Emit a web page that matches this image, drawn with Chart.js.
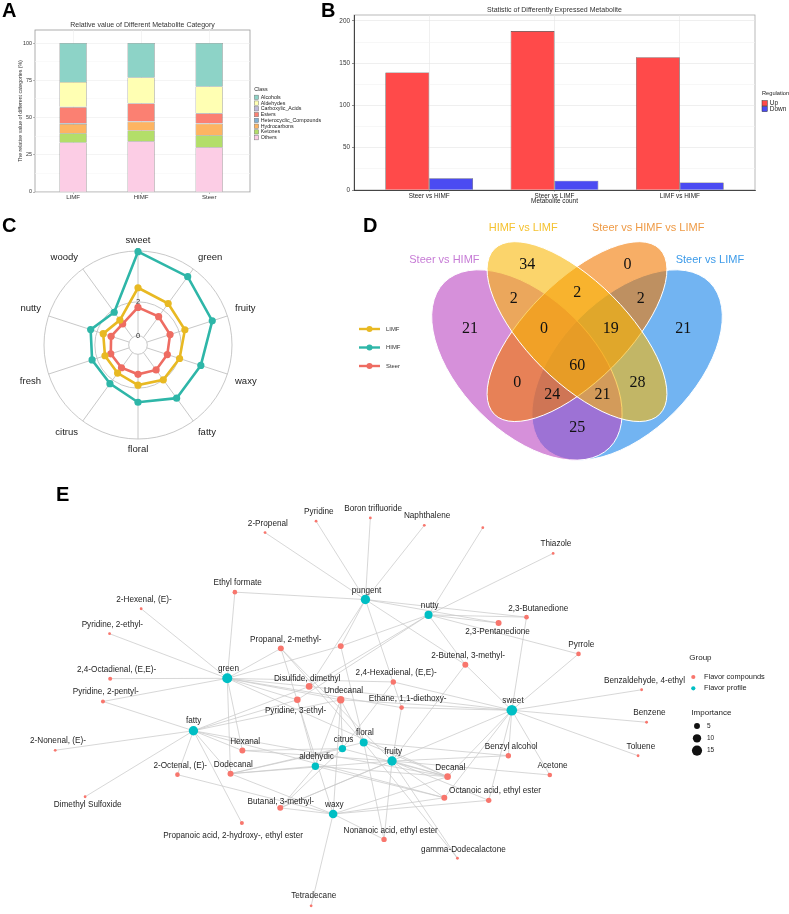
<!DOCTYPE html>
<html>
<head>
<meta charset="utf-8">
<title>Metabolite figure</title>
<script src="https://cdn.jsdelivr.net/npm/chart.js@4.4.1/dist/chart.umd.min.js"></script>
<style>
  html, body { margin: 0; padding: 0; background: #fff; }
  body { position: relative; width: 789px; height: 914px; overflow: hidden; font-family: "Liberation Sans", Arial, sans-serif; }
  canvas { position: absolute; }
  .tag { position: absolute; font: bold 20px/20px "Liberation Sans", Arial, sans-serif; color: #000; }
</style>
</head>
<body>
<canvas id="chartA" width="330" height="205" style="left:0;top:0"></canvas>
<canvas id="chartB" width="464" height="210" style="left:325px;top:0"></canvas>
<canvas id="chartC" width="405" height="255" style="left:0;top:215px"></canvas>
<canvas id="chartD" width="394" height="257" style="left:395px;top:205px"></canvas>
<canvas id="chartE" width="789" height="444" style="left:0;top:470px"></canvas>
<div class="tag" style="left:2px;top:0px">A</div>
<div class="tag" style="left:321px;top:0px">B</div>
<div class="tag" style="left:2px;top:215px">C</div>
<div class="tag" style="left:363px;top:215px">D</div>
<div class="tag" style="left:56px;top:484px">E</div>

<script>
// ============================================================
//  Figure: metabolite categories, DEMs, flavor radar, venn, flavor network
// ============================================================

// ---------- A: relative value by class (%) ----------
const samplesA = ['LIMF', 'HIMF', 'Steer'];
const classes = ['Alcohols', 'Aldehydes', 'Carboxylic_Acids', 'Esters', 'Heterocyclic_Compounds', 'Hydrocarbons', 'Ketones', 'Others'];
const alcohols        = [26.2, 23.1, 29.2];
const aldehydes       = [16.5, 17.3, 17.8];
const carboxylicAcids = [0.3, 0.2, 0.2];
const esters          = [10.8, 11.9, 6.6];
const heterocyclic    = [0.5, 0.4, 0.4];
const hydrocarbons    = [6.2, 5.8, 7.7];
const ketones         = [6.3, 7.2, 8.1];
const others          = [33.2, 34.1, 30.0];

// ---------- B: differently expressed metabolites ----------
const comparisons = ['Steer vs HIMF', 'Steer vs LIMF', 'LIMF vs HIMF'];
const upCounts    = [139, 188, 157];
const downCounts  = [14, 11, 9];

// ---------- C: flavor radar ----------
const flavorAxes  = ['sweet', 'green', 'fruity', 'waxy', 'fatty', 'floral', 'citrus', 'fresh', 'nutty', 'woody'];
const limfScores  = [2.83, 2.48, 2.36, 2.03, 1.99, 1.82, 1.50, 1.50, 1.61, 1.27];
const himfScores  = [4.96, 4.44, 4.06, 3.35, 3.33, 2.83, 2.27, 2.30, 2.39, 1.84];
const steerScores = [1.67, 1.52, 1.44, 1.27, 1.27, 1.18, 1.11, 1.14, 1.12, 0.99];
const radarTicks  = [0, 2, 5];

// ---------- D: venn ----------
const vennSets    = ['Steer vs HIMF', 'HIMF vs LIMF', 'Steer vs HIMF vs LIMF', 'Steer vs LIMF'];
const vennRegions = ['A', 'B', 'C', 'D', 'AB', 'BC', 'CD', 'ABC', 'BCD', 'ABCD', 'AC', 'BD', 'ACD', 'ABD', 'AD'];
const vennCounts  = [21, 34, 0, 21, 2, 2, 2, 0, 19, 60, 0, 28, 24, 21, 25];

// ---------- E: flavor network ----------
const profileNames      = ['pungent', 'nutty', 'green', 'sweet', 'fatty', 'floral', 'citrus', 'fruity', 'aldehydic', 'waxy'];
const profileX          = [365, 429, 225, 513.4, 190.7, 363.3, 341.7, 392, 314.3, 332.3];
const profileY          = [597.3, 613, 678, 710.7, 731.7, 743.7, 750, 762.7, 768, 817];
const profileImportance = [12.8, 9.3, 14.6, 16.3, 12.8, 9.3, 7.9, 12.8, 7.9, 10.7];

const compoundNames = ['2-Propenal', 'Pyridine', 'Boron trifluoride', 'Naphthalene', 'unlabeled 1', 'Thiazole',
  'Ethyl formate', '2-Hexenal, (E)-', 'Pyridine, 2-ethyl-', 'Propanal, 2-methyl-', 'unlabeled 2',
  '2,4-Octadienal, (E,E)-', 'Disulfide, dimethyl', '2,4-Hexadienal, (E,E)-', 'Undecanal', 'Pyridine, 3-ethyl-',
  'Ethane, 1,1-diethoxy-', 'Pyridine, 2-pentyl-', '2-Nonenal, (E)-', 'Hexanal', 'Dodecanal', '2-Octenal, (E)-',
  'Decanal', 'unlabeled 3', 'Octanoic acid, ethyl ester', 'Dimethyl Sulfoxide', 'Butanal, 3-methyl-',
  'Propanoic acid, 2-hydroxy-, ethyl ester', 'Nonanoic acid, ethyl ester', 'gamma-Dodecalactone', 'Tetradecane',
  'Benzyl alcohol', 'Acetone', 'Benzene', 'Toluene', 'Benzaldehyde, 4-ethyl', 'Pyrrole', '2-Butenal, 3-methyl-',
  '2,3-Butanedione', '2,3-Pentanedione'];
const compoundX = [263.3, 315, 370, 424.7, 484, 555.3, 232.7, 137.7, 105.7, 279.3, 340, 106.3, 308, 393.3, 340, 296,
  401.7, 99, 50.6, 240.3, 228.3, 174.5, 448.3, 445, 490, 80.9, 278.7, 239.8, 383.9, 458.3, 310, 509.9, 551.9, 650,
  641.4, 645, 581, 466.3, 528.3, 500];
const compoundY = [528.7, 517, 513.7, 521.3, 523.7, 550, 589.7, 606.7, 632.3, 647.3, 645, 678.3, 686.3, 681.7, 700,
  700, 708, 701.7, 751.7, 752, 775.7, 776.7, 778.7, 800.3, 803, 799.3, 810.7, 826.3, 843, 862.3, 911, 757.3, 777,
  723, 757.3, 689.7, 653, 664, 615.3, 621.3];
const compoundImportance = [1, 1, 1, 1, 1, 1, 3, 1, 1, 5.1, 5.1, 2.2, 6.3, 4.1, 7.9, 6.3, 3, 2.2, 1, 5.1, 5.1, 3,
  6.3, 5.1, 4.1, 1, 5.1, 2.2, 4.1, 1, 1, 4.1, 3, 1, 1, 1, 3, 5.1, 3, 5.1];
const hiddenLabels = ['unlabeled 1', 'unlabeled 2', 'unlabeled 3'];

const linksPungent = ['2-Propenal', 'Pyridine', 'Boron trifluoride', 'Naphthalene', 'Ethyl formate', 'unlabeled 2',
  '2,3-Butanedione', '2,3-Pentanedione', '2-Butenal, 3-methyl-', 'Disulfide, dimethyl', 'Ethane, 1,1-diethoxy-'];
const linksNutty = ['unlabeled 1', 'Thiazole', '2,3-Butanedione', '2,3-Pentanedione', 'Pyrrole', '2-Butenal, 3-methyl-',
  'unlabeled 2', 'Pyridine, 3-ethyl-', 'Disulfide, dimethyl'];
const linksGreen = ['Ethyl formate', '2-Hexenal, (E)-', 'Pyridine, 2-ethyl-', '2,4-Octadienal, (E,E)-', 'Pyridine, 2-pentyl-',
  'Propanal, 2-methyl-', 'unlabeled 2', 'Disulfide, dimethyl', '2,4-Hexadienal, (E,E)-', 'Ethane, 1,1-diethoxy-',
  'Hexanal', 'Dodecanal', 'Undecanal', 'Decanal', 'Pyridine, 3-ethyl-'];
const linksSweet = ['Benzaldehyde, 4-ethyl', 'Benzene', 'Toluene', 'Acetone', 'Benzyl alcohol', 'unlabeled 3',
  'Octanoic acid, ethyl ester', 'Pyrrole', '2,3-Butanedione', '2-Butenal, 3-methyl-', '2,4-Hexadienal, (E,E)-',
  'Ethane, 1,1-diethoxy-', 'Undecanal', 'Disulfide, dimethyl', 'Decanal', 'Butanal, 3-methyl-'];
const linksFatty = ['2-Nonenal, (E)-', 'Dimethyl Sulfoxide', '2-Octenal, (E)-', 'Propanoic acid, 2-hydroxy-, ethyl ester',
  'Pyridine, 2-pentyl-', 'Hexanal', 'Disulfide, dimethyl', 'Pyridine, 3-ethyl-', 'Undecanal', 'Decanal', 'unlabeled 3',
  'Dodecanal'];
const linksFloral = ['Undecanal', 'Propanal, 2-methyl-', 'Benzyl alcohol', 'Dodecanal', 'Decanal', 'unlabeled 2',
  'Nonanoic acid, ethyl ester', 'gamma-Dodecalactone'];
const linksCitrus = ['Undecanal', 'Decanal', 'Dodecanal', '2,4-Hexadienal, (E,E)-', 'Hexanal', 'Butanal, 3-methyl-'];
const linksFruity = ['Hexanal', 'Benzyl alcohol', 'Acetone', 'Decanal', 'unlabeled 3', 'Octanoic acid, ethyl ester',
  'Nonanoic acid, ethyl ester', 'gamma-Dodecalactone', 'Ethane, 1,1-diethoxy-', 'Butanal, 3-methyl-',
  'Propanal, 2-methyl-', '2-Butenal, 3-methyl-', 'Dodecanal'];
const linksAldehydic = ['Undecanal', 'Decanal', 'Dodecanal', 'Butanal, 3-methyl-', 'Pyridine, 3-ethyl-', 'unlabeled 3'];
const linksWaxy = ['Tetradecane', 'Undecanal', 'Decanal', 'Dodecanal', '2-Octenal, (E)-', 'Butanal, 3-methyl-',
  'unlabeled 3', 'Octanoic acid, ethyl ester', 'Propanal, 2-methyl-', 'Nonanoic acid, ethyl ester'];
const profileLinks = [linksPungent, linksNutty, linksGreen, linksSweet, linksFatty, linksFloral, linksCitrus,
  linksFruity, linksAldehydic, linksWaxy];

// ============================================================
//  defaults & helpers
// ============================================================
const FONT = '"Liberation Sans", Arial, sans-serif';
Chart.defaults.font.family = FONT;
Chart.defaults.color = '#333';
Chart.defaults.animation = false;
Chart.defaults.responsive = false;
Chart.defaults.events = [];
Chart.defaults.plugins.legend.display = false;
Chart.defaults.plugins.tooltip.enabled = false;

// box around the plotting panel (ggplot style)
const panelBorder = {
  id: 'panelBorder',
  beforeDraw(chart, args, opts) {
    const a = chart.chartArea, c = chart.ctx;
    c.save();
    c.strokeStyle = opts.color;
    c.lineWidth = 0.8;
    c.strokeRect(a.left, a.top, a.right - a.left, a.bottom - a.top);
    c.restore();
  }
};

function drawBoxLegend(c, title, items, x, y, o) {
  c.save();
  c.textAlign = 'left';
  c.textBaseline = 'middle';
  c.fillStyle = '#222';
  c.font = `${o.titleSize}px ${FONT}`;
  c.fillText(title, x, y);
  c.font = `${o.size}px ${FONT}`;
  items.forEach((it, i) => {
    const cy = y + o.first + i * o.step;
    c.fillStyle = it.color;
    c.fillRect(x, cy - o.box / 2, o.box, o.box);
    c.strokeStyle = o.edge;
    c.lineWidth = 0.5;
    c.strokeRect(x, cy - o.box / 2, o.box, o.box);
    c.fillStyle = '#222';
    c.fillText(it.label, x + o.box + o.gap, cy);
  });
  c.restore();
}

// ==================== A ====================
const classValues = {
  Alcohols: alcohols, Aldehydes: aldehydes, Carboxylic_Acids: carboxylicAcids, Esters: esters,
  Heterocyclic_Compounds: heterocyclic, Hydrocarbons: hydrocarbons, Ketones: ketones, Others: others
};
const classColors = {
  Alcohols: '#8DD3C7', Aldehydes: '#FFFFB3', Carboxylic_Acids: '#BEBADA', Esters: '#FB8072',
  Heterocyclic_Compounds: '#80B1D3', Hydrocarbons: '#FDB462', Ketones: '#B3DE69', Others: '#FCCDE5'
};

// Others at the bottom of the stack, Alcohols on top
const datasetsA = classes.slice().reverse().map(name => ({
  label: name,
  data: classValues[name].map((v, i) => ({ x: i, y: v })),
  backgroundColor: classColors[name],
  borderColor: '#5c5c5c',
  borderWidth: 0.5,
  categoryPercentage: 0.40,
  barPercentage: 1
}));

new Chart('chartA', {
  type: 'bar',
  data: { datasets: datasetsA },
  options: {
    layout: { padding: { left: 0, right: 80, top: 18.6, bottom: 0 } },
    scales: {
      x: {
        type: 'linear', stacked: true, min: -0.56, max: 2.6, offset: false,
        afterFit: s => { s.height = 13; },
        ticks: { stepSize: 1, includeBounds: false, autoSkip: false, padding: 0, color: '#333',
                 font: { size: 6.1 }, callback: v => samplesA[v] ?? '' },
        grid: { offset: false, color: '#ededed', lineWidth: 0.6, tickLength: 2, tickColor: '#888' },
        border: { display: false }
      },
      y: {
        stacked: true, min: 0, max: 108.8,
        afterFit: s => { s.width = 35; },
        ticks: { stepSize: 12.5, includeBounds: false, autoSkip: false, padding: 1, color: '#333',
                 font: { size: 5.4 }, callback: v => (v % 25 === 0 ? v : '') },
        grid: {
          lineWidth: 0.6, tickLength: 2,
          color: ctx => (ctx.tick && ctx.tick.value % 25 === 0 ? '#ececec' : '#f6f6f6'),
          tickColor: ctx => (ctx.tick && ctx.tick.value % 25 === 0 ? '#888' : 'rgba(0,0,0,0)')
        },
        border: { display: false },
        title: { display: true, text: 'The relative value of different categories (%)',
                 font: { size: 5.2 }, color: '#333', padding: { top: 17, bottom: 17 } }
      }
    },
    plugins: {
      title: { display: true, text: 'Relative value of Different Metabolite Category', fullSize: false,
               color: '#333', font: { size: 7, weight: 'normal' }, padding: { top: 2.2, bottom: 0.8 } },
      panelBorder: { color: '#9a9a9a' }
    }
  },
  plugins: [panelBorder, {
    id: 'legendA',
    afterDraw(chart) {
      const items = chart.data.datasets.slice().reverse().map(d => ({ label: d.label, color: d.backgroundColor }));
      drawBoxLegend(chart.ctx, 'Class', items, chart.chartArea.right + 4.3, 89.3,
        { titleSize: 5.3, size: 5.3, first: 8, step: 5.77, box: 4.3, gap: 2.1, edge: '#777' });
    }
  }]
});

// ==================== B ====================
new Chart('chartB', {
  type: 'bar',
  data: {
    datasets: [
      { label: 'Up', data: upCounts.map((v, i) => ({ x: i, y: v })), backgroundColor: '#FF4A4A',
        borderColor: '#3a3a3a', borderWidth: 0.6, categoryPercentage: 0.70, barPercentage: 1 },
      { label: 'Down', data: downCounts.map((v, i) => ({ x: i, y: v })), backgroundColor: '#4B4BF2',
        borderColor: '#3a3a3a', borderWidth: 0.6, categoryPercentage: 0.70, barPercentage: 1 }
    ]
  },
  options: {
    layout: { padding: { left: 0, right: 34, top: 4, bottom: 0 } },
    scales: {
      x: {
        type: 'linear', min: -0.6, max: 2.6, offset: false,
        afterFit: s => { s.height = 20; },
        ticks: { stepSize: 1, includeBounds: false, autoSkip: false, padding: 0.5, color: '#222',
                 font: { size: 6.4 }, callback: v => comparisons[v] ?? '' },
        grid: { offset: false, color: '#e6e6e6', lineWidth: 0.6, tickLength: 1.5, tickColor: '#444' },
        border: { color: '#333', width: 0.9 },
        title: { display: true, text: 'Metabolite count', color: '#222', font: { size: 6.4 },
                 padding: { top: 4.7, bottom: 4.7 } }
      },
      y: {
        min: 0, max: 207,
        afterFit: s => { s.width = 29; },
        ticks: { stepSize: 25, includeBounds: false, autoSkip: false, padding: 2, color: '#333',
                 font: { size: 6.4 }, callback: v => (v % 50 === 0 ? v : '') },
        grid: {
          lineWidth: 0.6, tickLength: 2,
          color: ctx => (ctx.tick && ctx.tick.value % 50 === 0 ? '#e4e4e4' : '#f1f1f1'),
          tickColor: ctx => (ctx.tick && ctx.tick.value % 50 === 0 ? '#444' : 'rgba(0,0,0,0)')
        },
        border: { color: '#333', width: 0.9 }
      }
    },
    plugins: {
      title: { display: true, text: 'Statistic of Differently Expressed Metabolite', fullSize: false,
               color: '#333', font: { size: 7, weight: 'normal' }, padding: { top: 2, bottom: 0.6 } },
      panelBorder: { color: '#a8a8a8' }
    }
  },
  plugins: [panelBorder, {
    id: 'legendB',
    afterDraw(chart) {
      const items = chart.data.datasets.map(d => ({ label: d.label, color: d.backgroundColor }));
      drawBoxLegend(chart.ctx, 'Regulation', items, chart.chartArea.right + 7, 93.7,
        { titleSize: 5.7, size: 6.5, first: 9.6, step: 5.7, box: 5.3, gap: 2.4, edge: '#333' });
    }
  }]
});

// ==================== C ====================
const colLIMF = '#E8B923', colHIMF = '#2EB6A8', colSteer = '#EE6C62';

const radarDecor = {
  id: 'radarDecor',
  beforeDraw(chart) {
    const s = chart.scales.r, c = chart.ctx;
    c.save();
    c.strokeStyle = '#c2c2c2';
    c.lineWidth = 0.9;
    chart.data.labels.forEach((_, i) => {
      const p0 = s.getPointPositionForValue(i, 0);
      const p1 = s.getPointPositionForValue(i, s.max);
      c.beginPath(); c.moveTo(p0.x, p0.y); c.lineTo(p1.x, p1.y); c.stroke();
    });
    c.restore();
  },
  afterDraw(chart) {
    const s = chart.scales.r, c = chart.ctx;
    c.save();
    c.fillStyle = '#222';
    c.font = `9.5px ${FONT}`;
    chart.data.labels.forEach((label, i) => {
      const ang = s.getIndexAngle(i);
      const sin = Math.sin(ang), cos = Math.cos(ang);
      const p = s.getPointPosition(i, s.drawingArea + (Math.abs(cos) > 0.9 ? 6 : 8));
      c.textAlign = Math.abs(sin) < 0.1 ? 'center' : (sin > 0 ? 'left' : 'right');
      c.textBaseline = cos > 0.3 ? 'bottom' : (cos < -0.3 ? 'top' : 'middle');
      c.fillText(label, p.x, p.y);
    });
    // legend: line with a dot
    c.font = `5.9px ${FONT}`;
    c.textAlign = 'left';
    c.textBaseline = 'middle';
    chart.data.datasets.forEach((d, i) => {
      const y = 114 + i * 18.5;
      c.strokeStyle = d.borderColor;
      c.lineWidth = 2.4;
      c.beginPath(); c.moveTo(359, y); c.lineTo(380, y); c.stroke();
      c.fillStyle = d.borderColor;
      c.beginPath(); c.arc(369.5, y, 3, 0, Math.PI * 2); c.fill();
      c.fillStyle = '#333';
      c.fillText(d.label, 386, y);
    });
    c.restore();
  }
};

const radarSet = (label, data, color) => ({
  label, data, fill: false,
  borderColor: color, backgroundColor: color, pointBackgroundColor: color,
  borderWidth: 2.6, pointRadius: 3.6, pointBorderWidth: 0, pointHoverRadius: 3.6
});

new Chart('chartC', {
  type: 'radar',
  data: {
    labels: flavorAxes,
    datasets: [radarSet('LIMF', limfScores, colLIMF), radarSet('HIMF', himfScores, colHIMF),
               radarSet('Steer', steerScores, colSteer)]
  },
  options: {
    layout: { padding: { left: 38, right: 167, top: 30, bottom: 25 } },
    elements: { line: { tension: 0 } },
    scales: {
      r: {
        min: -0.55, max: 5,
        afterBuildTicks: s => { s.ticks = radarTicks.map(v => ({ value: v })); },
        ticks: { showLabelBackdrop: false, color: '#333', font: { size: 7.5 }, callback: v => String(v) },
        grid: { color: '#c2c2c2', lineWidth: 0.9, circular: true },
        angleLines: { display: false },
        pointLabels: { display: false }
      }
    }
  },
  plugins: [radarDecor]
});

// ==================== D ====================
// geometry of the four-set venn, in unit coordinates (drawing order matters for the blends)
const vennEllipses = [
  { set: 3, cx: 0.65, cy: 0.47, a: 0.35, b: 0.20, rot: 45,  color: '#1482E9' },
  { set: 0, cx: 0.35, cy: 0.47, a: 0.35, b: 0.20, rot: 135, color: '#BB46C1' },
  { set: 2, cx: 0.50, cy: 0.57, a: 0.35, b: 0.15, rot: 45,  color: '#F27800' },
  { set: 1, cx: 0.50, cy: 0.57, a: 0.35, b: 0.15, rot: 135, color: '#F8B708' }
];
const vennSetLabelPos = [[0.103, 0.786], [0.339, 0.879], [0.713, 0.879], [0.898, 0.786]];
const vennSetColors = ['#C77CD6', '#F5C230', '#EE9A45', '#3D9BE9'];
const vennCountPos = {
  A: [0.180, 0.578], B: [0.351, 0.769], C: [0.651, 0.769], D: [0.818, 0.578],
  AB: [0.311, 0.667], BC: [0.501, 0.687], CD: [0.691, 0.667], ABC: [0.401, 0.578],
  BCD: [0.601, 0.578], ABCD: [0.501, 0.468], AC: [0.321, 0.417], BD: [0.681, 0.417],
  ACD: [0.426, 0.380], ABD: [0.576, 0.380], AD: [0.501, 0.282]
};

const vennPlugin = {
  id: 'venn',
  beforeDatasetsDraw(chart) {
    const { ctx: c, scales: { x, y } } = chart;
    const k = x.getPixelForValue(1) - x.getPixelForValue(0);
    c.save();
    vennEllipses.forEach(e => {
      c.beginPath();
      c.ellipse(x.getPixelForValue(e.cx), y.getPixelForValue(e.cy), e.a * k, e.b * k,
                -e.rot * Math.PI / 180, 0, Math.PI * 2);
      c.globalAlpha = 0.6;
      c.fillStyle = e.color;
      c.fill();
      c.globalAlpha = 1;
      c.strokeStyle = '#fff';
      c.lineWidth = 1;
      c.stroke();
    });
    c.restore();
  },
  afterDatasetsDraw(chart) {
    const { ctx: c, scales: { x, y } } = chart;
    const meta = chart.getDatasetMeta(0);
    c.save();
    c.textAlign = 'center';
    c.textBaseline = 'middle';
    c.fillStyle = '#111';
    c.font = `16px "Liberation Serif", "Times New Roman", serif`;
    meta.data.forEach((pt, i) => c.fillText(String(vennCounts[i]), pt.x, pt.y));
    c.font = `11px ${FONT}`;
    vennSets.forEach((name, i) => {
      c.fillStyle = vennSetColors[i];
      c.fillText(name, x.getPixelForValue(vennSetLabelPos[i][0]), y.getPixelForValue(vennSetLabelPos[i][1]));
    });
    c.restore();
  }
};

new Chart('chartD', {
  type: 'scatter',
  data: {
    datasets: [{
      label: 'counts',
      data: vennRegions.map(r => ({ x: vennCountPos[r][0], y: vennCountPos[r][1] })),
      pointRadius: 0
    }]
  },
  options: {
    layout: { padding: 0 },
    scales: {
      x: { type: 'linear', display: false, min: -0.0449, max: 1.1347 },
      y: { type: 'linear', display: false, min: 0.1796, max: 0.9491 }
    }
  },
  plugins: [vennPlugin]
});

// ==================== E ====================
const sizeOf = imp => Math.sqrt(1.96 + 1.7 * (imp - 1));

const labelOffsets = {
  'Disulfide, dimethyl': [-2, -8], 'Pyridine, 3-ethyl-': [-1.7, 10.7], '2,4-Octadienal, (E,E)-': [6.4, -8.6],
  'Ethane, 1,1-diethoxy-': [6, -8.7], '2,3-Butanedione': [11.7, -8.6], '2,3-Pentanedione': [-1, 8.7],
  'Dimethyl Sulfoxide': [2.6, 7.7], 'Butanal, 3-methyl-': [0.5, -6.4],
  'Propanoic acid, 2-hydroxy-, ethyl ester': [-8.8, 13], 'Nonanoic acid, ethyl ester': [6.6, -9],
  'gamma-Dodecalactone': [6, -9], 'Octanoic acid, ethyl ester': [6.3, -9.3], 'Propanal, 2-methyl-': [5, -9],
  'fatty': [0.3, -10], 'Tetradecane': [2.6, -10]
};

const nodeIndex = {};
compoundNames.forEach((n, i) => { nodeIndex[n] = { x: compoundX[i], y: compoundY[i] }; });
profileNames.forEach((n, i) => { nodeIndex[n] = { x: profileX[i], y: profileY[i] }; });

const networkPlugin = {
  id: 'network',
  beforeDatasetsDraw(chart) {
    const { ctx: c, scales: { x, y } } = chart;
    c.save();
    c.strokeStyle = '#c9c9c9';
    c.lineWidth = 0.75;
    profileNames.forEach((p, i) => {
      const a = nodeIndex[p];
      profileLinks[i].forEach(name => {
        const b = nodeIndex[name];
        c.beginPath();
        c.moveTo(x.getPixelForValue(a.x), y.getPixelForValue(a.y));
        c.lineTo(x.getPixelForValue(b.x), y.getPixelForValue(b.y));
        c.stroke();
      });
    });
    c.restore();
  },
  afterDatasetsDraw(chart) {
    const { ctx: c, scales: { x, y } } = chart;
    c.save();
    c.font = `8.2px ${FONT}`;
    c.fillStyle = '#1e1e1e';
    c.textAlign = 'center';
    c.textBaseline = 'middle';
    Object.keys(nodeIndex).forEach(name => {
      if (hiddenLabels.includes(name)) return;
      const n = nodeIndex[name];
      const off = labelOffsets[name] || (profileNames.includes(name) ? [1.2, -9.3] : [2.8, -9.3]);
      c.fillText(name, x.getPixelForValue(n.x) + off[0], y.getPixelForValue(n.y) + off[1]);
    });
    c.restore();
  },
  afterDraw(chart) {
    const c = chart.ctx;
    const top = 470;
    c.save();
    c.textAlign = 'left';
    c.textBaseline = 'middle';
    c.fillStyle = '#222';
    c.font = `8px ${FONT}`;
    c.fillText('Group', 689.3, 658 - top);
    c.font = `7.4px ${FONT}`;
    chart.data.datasets.forEach((d, i) => {
      const cy = 677 + i * 11.3 - top;
      c.fillStyle = d.backgroundColor;
      c.beginPath(); c.arc(693.3, cy, 2.1, 0, Math.PI * 2); c.fill();
      c.fillStyle = '#222';
      c.fillText(d.label, 704, cy);
    });
    c.font = `8px ${FONT}`;
    c.fillText('Importance', 691.4, 712.7 - top);
    c.font = `6.5px ${FONT}`;
    [5, 10, 15].forEach((v, i) => {
      const cy = 726 + i * 12.3 - top;
      c.fillStyle = '#111';
      c.beginPath(); c.arc(697, cy, sizeOf(v), 0, Math.PI * 2); c.fill();
      c.fillStyle = '#222';
      c.fillText(String(v), 707, cy);
    });
    c.restore();
  }
};

new Chart('chartE', {
  type: 'scatter',
  data: {
    datasets: [
      { label: 'Flavor compounds',
        data: compoundNames.map((n, i) => ({ x: compoundX[i], y: compoundY[i] })),
        backgroundColor: '#F8766D', borderWidth: 0,
        pointRadius: ctx => sizeOf(compoundImportance[ctx.dataIndex]) },
      { label: 'Flavor profile',
        data: profileNames.map((n, i) => ({ x: profileX[i], y: profileY[i] })),
        backgroundColor: '#00BFC4', borderWidth: 0,
        pointRadius: ctx => sizeOf(profileImportance[ctx.dataIndex]) }
    ]
  },
  options: {
    layout: { padding: 0 },
    scales: {
      x: { type: 'linear', display: false, min: 0, max: 789 },
      y: { type: 'linear', display: false, min: 470, max: 914, reverse: true }
    }
  },
  plugins: [networkPlugin]
});
</script>
</body>
</html>
